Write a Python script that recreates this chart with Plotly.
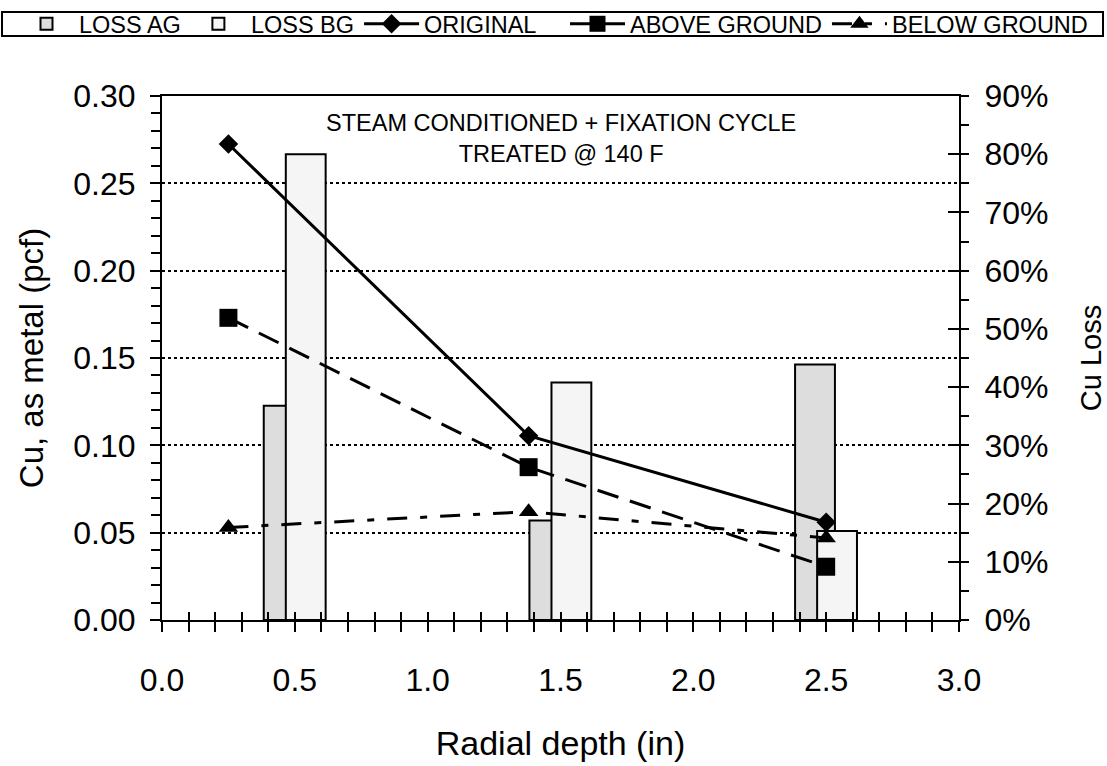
import plotly.graph_objects as go

# ---- data ----
bar_x = [0.5, 1.5, 2.5]
loss_ag = [0.368, 0.171, 0.439]
loss_bg = [0.800, 0.408, 0.153]

line_x = [0.25, 1.38, 2.5]
original = [0.2725, 0.1055, 0.056]
above_ground = [0.173, 0.0875, 0.0305]
below_ground = [0.053, 0.062, 0.047]

FONT = "Liberation Sans, Arial, sans-serif"

fig = go.Figure()

# bars on the base (right, percentage) axis
fig.add_trace(go.Bar(
    x=bar_x, y=loss_ag, name="LOSS AG", yaxis="y", legend="legend",
    width=0.15, offset=-0.117,
    marker=dict(color="#dddddd", line=dict(color="black", width=2)),
))
fig.add_trace(go.Bar(
    x=bar_x, y=loss_bg, name="LOSS BG", yaxis="y", legend="legend",
    width=0.15, offset=-0.034,
    marker=dict(color="#f5f5f5", line=dict(color="black", width=2)),
))

# lines on the overlaid left (pcf) axis, drawn above the bars
fig.add_trace(go.Scatter(
    x=line_x, y=original, name="ORIGINAL", mode="lines+markers", yaxis="y2",
    legend="legend",
    line=dict(color="black", width=3),
    marker=dict(symbol="diamond", size=15, color="black"),
))
fig.add_trace(go.Scatter(
    x=line_x, y=above_ground, name="ABOVE GROUND", mode="lines+markers", yaxis="y2",
    legend="legend2",
    line=dict(color="black", width=3, dash="22px,12px"),
    marker=dict(symbol="square", size=18, color="black"),
))
fig.add_trace(go.Scatter(
    x=line_x, y=below_ground, name="BELOW GROUND", mode="lines+markers", yaxis="y2",
    legend="legend2",
    line=dict(color="black", width=3, dash="20px,13px,7px,13px"),
    marker=dict(symbol="triangle-up", size=17, color="black"),
))

# tick-only overlay axes (crossing tick marks)
fig.add_trace(go.Scatter(x=[None], y=[None], xaxis="x3", yaxis="y3",
                         showlegend=False, hoverinfo="skip"))

axis_common = dict(showline=True, linecolor="black", linewidth=2,
                   tickcolor="black", tickwidth=2, zeroline=False,
                   tickfont=dict(family=FONT, size=32, color="black"))

legend_common = dict(
    orientation="h", yanchor="middle", y=(620 - 24) / 524, xanchor="left",
    font=dict(family=FONT, size=23.5, color="black"),
    bgcolor="rgba(0,0,0,0)", borderwidth=0,
    itemwidth=55, tracegroupgap=0,
)

fig.update_layout(
    width=1107, height=766,
    margin=dict(l=162, r=148, t=96, b=146, autoexpand=False),
    paper_bgcolor="white", plot_bgcolor="white",
    barmode="overlay",
    font=dict(family=FONT, color="black"),
    xaxis=dict(
        range=[0, 3], dtick=0.5, tickformat=".1f",
        ticks="outside", ticklen=10, mirror=True,
        minor=dict(dtick=0.1, ticks="outside", ticklen=10, tickcolor="black", tickwidth=2),
        showgrid=False,
        title=dict(text="Radial depth (in)", font=dict(family=FONT, size=34), standoff=34),
        ticklabelstandoff=21,
        **axis_common,
    ),
    xaxis3=dict(
        range=[0, 3], overlaying="x", anchor="y", side="bottom",
        dtick=0.1, ticks="inside", ticklen=8, tickcolor="black", tickwidth=2,
        showticklabels=False, showgrid=False, zeroline=False, showline=False,
    ),
    yaxis=dict(
        range=[0, 0.9], dtick=0.1, tickformat=".0%", side="right", anchor="x",
        ticks="outside", ticklen=8,
        minor=dict(dtick=0.05, ticks="outside", ticklen=8, tickcolor="black", tickwidth=2),
        showgrid=False,
        title=dict(text="Cu Loss", font=dict(family=FONT, size=29), standoff=34),
        ticklabelstandoff=9,
        **axis_common,
    ),
    yaxis2=dict(
        range=[0, 0.30], dtick=0.05, tickformat=".2f",
        overlaying="y", side="left", anchor="x",
        ticks="outside", ticklen=10,
        minor=dict(dtick=0.01, ticks="outside", ticklen=9, tickcolor="black", tickwidth=2),
        showgrid=True, gridcolor="black", gridwidth=1.5, griddash="dot",
        title=dict(text="Cu, as metal (pcf)", font=dict(family=FONT, size=33), standoff=20),
        ticklabelstandoff=8,
        **axis_common,
    ),
    yaxis3=dict(
        range=[0, 0.9], dtick=0.1, overlaying="y", side="right", anchor="x",
        ticks="inside", ticklen=11, tickcolor="black", tickwidth=2,
        showticklabels=False, showgrid=False, zeroline=False, showline=False,
    ),
    legend=dict(x=(14 - 162) / 797, **legend_common),
    legend2=dict(x=(565 - 162) / 797, **legend_common),
    showlegend=True,
    annotations=[dict(
        text="STEAM CONDITIONED + FIXATION CYCLE<br>TREATED @ 140 F",
        xref="paper", yref="paper", x=0.5, y=0.978, xanchor="center", yanchor="top",
        showarrow=False, font=dict(family=FONT, size=23.5, color="black"),
    )],
    shapes=[dict(
        type="rect", xref="paper", yref="paper",
        x0=(2 - 162) / 797, x1=(1103 - 162) / 797,
        y0=(620 - 36) / 524, y1=(620 - 12) / 524,
        line=dict(color="black", width=2), fillcolor="rgba(0,0,0,0)", layer="above",
    )],
)

fig.write_html("out.html")
